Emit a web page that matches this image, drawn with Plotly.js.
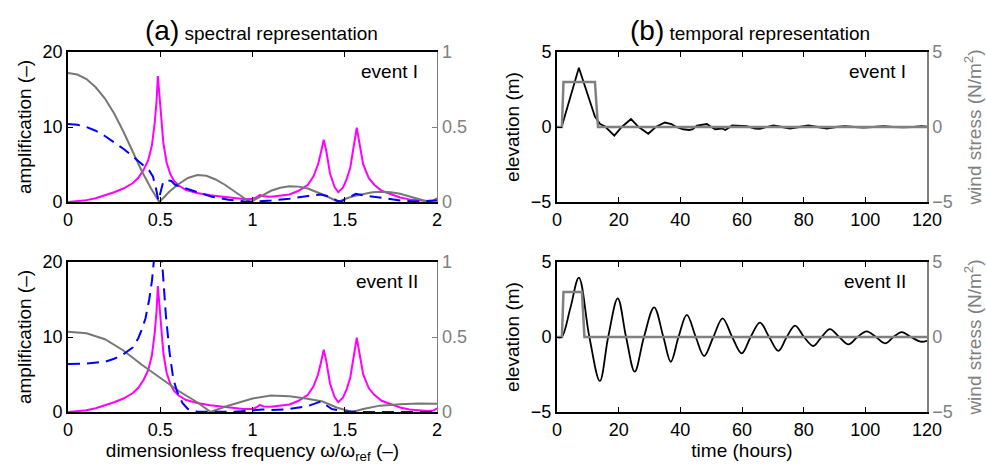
<!DOCTYPE html>
<html><head><meta charset="utf-8">
<script src="https://cdn.plot.ly/plotly-3.0.1.min.js"></script>
<style>body{margin:0;background:#fff;} #chart{width:986px;height:469px;}</style>
</head><body><div id="chart"></div>
<script>
// ---------- (a) spectral representation ----------
// amplification (left axis, -) — identical for both events
const ampFreq = [0,0.05,0.1,0.15,0.2,0.25,0.3,0.35,0.38,0.41,0.435,0.455,0.47,0.48,0.487,0.495,0.505,0.517,0.535,0.555,0.575,0.6,0.64,0.7,0.77,0.85,0.95,1.0,1.02,1.04,1.06,1.1,1.15,1.2,1.25,1.3,1.33,1.355,1.37,1.386,1.4,1.42,1.445,1.465,1.49,1.51,1.53,1.55,1.565,1.58,1.6,1.63,1.66,1.7,1.75,1.8,1.85,1.9,1.95,1.98,2.0];
const ampValues = [0,0.1,0.25,0.5,0.85,1.3,1.8,2.5,3.2,4.3,5.6,7.6,10.6,13.5,16.8,14.5,10.5,7.8,5.2,3.7,2.8,2.2,1.6,1.2,0.9,0.65,0.4,0.4,0.6,0.95,0.75,0.7,0.8,1.0,1.5,2.3,3.4,5.0,6.5,8.3,6.8,3.8,2.0,1.3,1.9,3.0,4.6,7.4,9.9,7.8,5.0,3.2,2.3,1.5,1.0,0.6,0.35,0.2,0.13,0.2,0.5];

// event I: wind spectrum (grey) and response spectrum (blue dashed), right axis
const windSpecFreqI = [0,0.05,0.1,0.15,0.2,0.25,0.3,0.35,0.4,0.45,0.495,0.55,0.6,0.65,0.7,0.75,0.8,0.85,0.9,0.95,0.99,1.05,1.1,1.15,1.2,1.25,1.3,1.35,1.4,1.465,1.5,1.55,1.6,1.65,1.7,1.75,1.8,1.85,1.9,1.955,2.0];
const windSpecI = [0.86,0.85,0.82,0.765,0.69,0.59,0.47,0.34,0.205,0.09,0,0.07,0.12,0.16,0.18,0.175,0.15,0.115,0.07,0.03,0,0.04,0.075,0.095,0.105,0.1025,0.09,0.065,0.04,0,0.02,0.04,0.055,0.065,0.0675,0.065,0.055,0.04,0.02,0,0.0175];
const respFreqI = [0,0.05,0.1,0.15,0.2,0.25,0.3,0.35,0.4,0.44,0.46,0.475,0.49,0.5,0.515,0.53,0.56,0.58,0.65,0.69,0.78,0.87,0.95,1.0,1.1,1.2,1.3,1.37,1.42,1.46,1.48,1.52,1.56,1.6,1.7,1.8,1.9,2.0];
const respI = [0.52,0.515,0.5,0.475,0.44,0.4,0.355,0.305,0.25,0.21,0.17,0.1,0.01,0.06,0.13,0.145,0.14,0.115,0.085,0.07,0.035,0.015,0.005,0.002,0.01,0.022,0.04,0.05,0.035,0.008,0.003,0.03,0.055,0.045,0.025,0.01,0.003,0.01];

// event II
const windSpecFreqII = [0,0.1,0.2,0.3,0.4,0.5,0.6,0.7,0.773,0.85,0.9,1.0,1.1,1.2,1.29,1.38,1.456,1.54,1.6,1.69,1.8,1.9,2.0];
const windSpecII = [0.535,0.525,0.485,0.41,0.315,0.225,0.14,0.065,0,0.035,0.055,0.09,0.11,0.105,0.09,0.07,0.03,0,0.02,0.0425,0.0525,0.0575,0.055];
const respFreqII = [0,0.1,0.2,0.25,0.3,0.35,0.38,0.4,0.42,0.44,0.455,0.465,0.48,0.495,0.51,0.53,0.55,0.57,0.59,0.62,0.65,0.7,0.8,0.9,1.0,1.05,1.1,1.2,1.3,1.37,1.4,1.43,1.5,1.6,1.8,2.0];
const respII = [0.32,0.3225,0.335,0.355,0.385,0.43,0.49,0.55,0.625,0.75,0.875,1.0,1.2,1.2,1.0,0.65,0.4,0.225,0.14,0.06,0.02,0.0025,0,0.0025,0.01,0.0175,0.0125,0.02,0.04,0.07,0.045,0.02,0.005,0.001,0,0];

// ---------- (b) temporal representation ----------
const elevTimeI = [0,1.5,7.1,12.3,14,15.5,18.6,21,24,26.5,29.6,32,35,37.1,38.7,40.9,42.9,44,45.4,46.7,48.6,49.7,51.3,53.5,54.6,56.8,58.4,59.3,61.5,64.2,65.8,68,70.2,73,75.6,78.5,81.5,84.5,87.5,90.5,93.4,96.5,99.4,102.5,105.9,109,112.4,115.5,118.3,120];
const elevI = [0,0,3.95,0.69,0.2,0.05,-0.58,0,0.53,0,-0.45,0,0.3,0.2,0,-0.15,-0.2,-0.15,0.1,0.15,0.2,0.05,-0.15,-0.1,-0.2,0.1,0.1,0.1,0.05,-0.1,-0.12,0,0.1,0,-0.1,0,0.1,0,-0.1,0,0.05,0,-0.04,0,0.05,0,-0.03,0,0.05,0.03];
const windTimeI = [0,1.6,2.1,12.3,13.3,120];
const windI = [0,0,3,3,0,0];

const elevTimeII = [0,1.5,4.3,7.1,10.5,13.9,16.6,19.7,22.4,25.2,28.2,31.5,34.5,36.9,39.4,42.1,45,47.7,50.7,53.7,56.8,59.9,62.8,65.8,68.8,71.8,74.5,77.2,80.1,83.1,85.8,88.5,91.5,94.5,97.4,100.4,103.4,106.4,109.1,111.8,114.8,117.9,120];
const elevII = [0,0,1.9,3.96,0,-2.93,0,2.58,0,-2.31,0,1.98,0,-1.65,0,1.47,0,-1.27,0,1.24,0,-1.09,0,0.96,0,-0.93,0,0.76,0,-0.6,0,0.53,0,-0.49,0,0.38,0,-0.42,0,0.33,0,-0.31,-0.25];
const windTimeII = [0,1.6,2.1,8.1,8.9,120];
const windII = [0,0,3,3,0,0];

// ---------- styling ----------
const FONT = 'Liberation Sans, Arial, Helvetica, sans-serif';
const GREY = '#808080';
const MAG = '#ff00ff';
const BLUE = '#0000ff';
const SPECGREY = '#777777';

const traces = [
  {x: ampFreq, y: ampValues, xaxis:'x', yaxis:'y', mode:'lines', line:{color:MAG, width:2}},
  {x: windSpecFreqI, y: windSpecI, xaxis:'x', yaxis:'y2', mode:'lines', line:{color:SPECGREY, width:2}},
  {x: respFreqI, y: respI, xaxis:'x', yaxis:'y2', mode:'lines', line:{color:BLUE, width:2, dash:'12px,7px'}},

  {x: ampFreq, y: ampValues, xaxis:'x2', yaxis:'y3', mode:'lines', line:{color:MAG, width:2}},
  {x: windSpecFreqII, y: windSpecII, xaxis:'x2', yaxis:'y4', mode:'lines', line:{color:SPECGREY, width:2}},
  {x: respFreqII, y: respII, xaxis:'x2', yaxis:'y4', mode:'lines', line:{color:BLUE, width:2, dash:'12px,7px'}},

  {x: elevTimeI, y: elevI, xaxis:'x3', yaxis:'y5', mode:'lines', line:{color:'#000', width:1.8}},
  {x: windTimeI, y: windI, xaxis:'x3', yaxis:'y6', mode:'lines', line:{color:GREY, width:2.5}},

  {x: elevTimeII, y: elevII, xaxis:'x4', yaxis:'y7', mode:'lines', line:{color:'#000', width:1.8, shape:'spline', smoothing:1}},
  {x: windTimeII, y: windII, xaxis:'x4', yaxis:'y8', mode:'lines', line:{color:GREY, width:2.5}}
];

const xL = [0.069, 0.4432], xR = [0.5649, 0.9402];
const yTop = [0.5693, 0.8891], yBot = [0.1215, 0.4414];

function xax(domain, anchor, range, dtick, title) {
  const a = {domain, anchor, range, dtick, tick0:0, showgrid:false, zeroline:false,
    showline:true, linecolor:'#000', linewidth:2, mirror:'ticks', ticks:'inside', ticklen:5,
    tickcolor:'#000', tickwidth:1, tickfont:{size:18, color:'#000', family:FONT}, fixedrange:true};
  if (title) a.title = {text:title, font:{size:19, color:'#000', family:FONT}, standoff:2};
  return a;
}
function yax(domain, anchor, range, tickvals, title) {
  const a = {domain, anchor, range, tickvals, showgrid:false, zeroline:false,
    showline:true, linecolor:'#000', linewidth:2, ticks:'inside', ticklen:5,
    tickcolor:'#000', tickwidth:1, tickfont:{size:18, color:'#000', family:FONT}, fixedrange:true};
  if (title) a.title = {text:title, font:{size:19, color:'#000', family:FONT}, standoff:6};
  return a;
}
function y2ax(over, anchor, range, tickvals, title) {
  const a = {overlaying:over, anchor, side:'right', range, tickvals, showgrid:false, zeroline:false,
    showline:true, linecolor:GREY, linewidth:1.5, ticks:'inside', ticklen:5,
    tickcolor:GREY, tickwidth:1, tickfont:{size:18, color:GREY, family:FONT}, fixedrange:true};
  if (title) a.title = {text:title, font:{size:19, color:GREY, family:FONT}, standoff:16};
  return a;
}

const layout = {
  width:986, height:469, margin:{l:0,r:0,t:0,b:0}, showlegend:false,
  paper_bgcolor:'#fff', plot_bgcolor:'#fff', font:{family:FONT, color:'#000'},
  xaxis:  xax(xL, 'y', [0,2], 0.5, null),
  yaxis:  yax(yTop, 'x', [0,20], [0,10,20], 'amplification (–)'),
  yaxis2: y2ax('y', 'x', [0,1], [0,0.5,1], null),
  xaxis2: xax(xL, 'y3', [0,2], 0.5, 'dimensionless frequency ω/ω<sub>ref</sub> (–)'),
  yaxis3: yax(yBot, 'x2', [0,20], [0,10,20], 'amplification (–)'),
  yaxis4: y2ax('y3', 'x2', [0,1], [0,0.5,1], null),
  xaxis3: xax(xR, 'y5', [0,120], 20, null),
  yaxis5: yax(yTop, 'x3', [-5,5], [-5,0,5], 'elevation (m)'),
  yaxis6: y2ax('y5', 'x3', [-5,5], [-5,0,5], 'wind stress (N/m<sup>2</sup>)'),
  xaxis4: xax(xR, 'y7', [0,120], 20, 'time (hours)'),
  yaxis7: yax(yBot, 'x4', [-5,5], [-5,0,5], 'elevation (m)'),
  yaxis8: y2ax('y7', 'x4', [-5,5], [-5,0,5], 'wind stress (N/m<sup>2</sup>)'),
  annotations: [
    {text:'<span style="font-size:28px">(a)</span> spectral representation', xref:'paper', yref:'paper', x:0.2657, y:0.935, xanchor:'center', yanchor:'middle', showarrow:false, font:{size:19, family:FONT, color:'#000'}},
    {text:'<span style="font-size:28px">(b)</span> temporal representation', xref:'paper', yref:'paper', x:0.7606, y:0.935, xanchor:'center', yanchor:'middle', showarrow:false, font:{size:19, family:FONT, color:'#000'}},
    {text:'event I', xref:'x domain', yref:'y domain', x:0.954, y:0.867, xanchor:'right', yanchor:'middle', showarrow:false, font:{size:19, family:FONT, color:'#000'}},
    {text:'event II', xref:'x2 domain', yref:'y3 domain', x:0.954, y:0.867, xanchor:'right', yanchor:'middle', showarrow:false, font:{size:19, family:FONT, color:'#000'}},
    {text:'event I', xref:'x3 domain', yref:'y5 domain', x:0.948, y:0.867, xanchor:'right', yanchor:'middle', showarrow:false, font:{size:19, family:FONT, color:'#000'}},
    {text:'event II', xref:'x4 domain', yref:'y7 domain', x:0.948, y:0.867, xanchor:'right', yanchor:'middle', showarrow:false, font:{size:19, family:FONT, color:'#000'}}
  ]
};

Plotly.newPlot('chart', traces, layout, {staticPlot:true, displayModeBar:false});
</script></body></html>
